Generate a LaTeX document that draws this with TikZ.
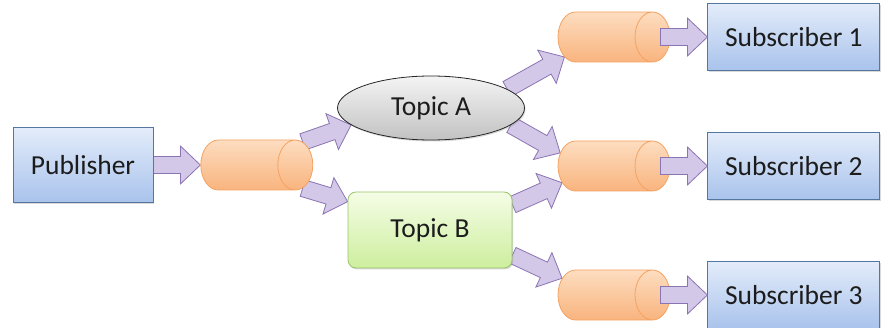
\documentclass[tikz,border=0pt]{standalone}
\usepackage{fontspec}
\setmainfont{Carlito}
\usetikzlibrary{positioning,calc,shapes.geometric,backgrounds,shadows}
\definecolor{boxline}{HTML}{55779F}
\definecolor{boxtop}{HTML}{E3ECFA}
\definecolor{boxbot}{HTML}{A9C3EC}
\definecolor{qline}{HTML}{F4A262}
\definecolor{qtop}{HTML}{FDDDC0}
\definecolor{qbot}{HTML}{F9B47E}
\definecolor{graytop}{HTML}{F4F4F4}
\definecolor{graybot}{HTML}{C2C2C2}
\definecolor{greentop}{HTML}{F5FDE6}
\definecolor{greenbot}{HTML}{CDEE9E}
\definecolor{greenline}{HTML}{98C46A}
\definecolor{flowfill}{HTML}{D4C8E8}
\definecolor{flowline}{HTML}{8B74B3}
\definecolor{ink}{HTML}{1C1C1C}

\begin{document}
\begin{tikzpicture}[x=1pt,y=-1pt,
  node distance=47pt,
  every node/.style={font=\fontsize{27.5}{31}\selectfont,text=ink,inner sep=0pt},
  box/.style={draw=boxline,line width=0.8pt,top color=boxtop,bottom color=boxbot,
              minimum width=172pt,minimum height=67pt,
              drop shadow={shadow xshift=1pt,shadow yshift=-1.5pt,opacity=0.3}},
  queue/.style={cylinder,shape aspect=0.7,inner xsep=0pt,inner ysep=25pt,
              draw=qline,line width=0.8pt,top color=qtop,bottom color=qbot,
              minimum width=50pt,minimum height=112pt},
  topic/.style={line width=0.8pt,minimum height=64pt,
              drop shadow={shadow xshift=1pt,shadow yshift=-1.5pt,opacity=0.3}},
  flow/.style={draw=flowline,fill=flowfill,line width=0.8pt,line join=miter,
    to path={let \p1=($(\tikztotarget)!20pt!(\tikztostart)$) in
      ($(\tikztostart)!8.5pt!90:(\tikztotarget)$)
      -- ($(\p1)!8.5pt!90:(\tikztotarget)$)
      -- ($(\p1)!19pt!90:(\tikztotarget)$)
      -- (\tikztotarget)
      -- ($(\p1)!19pt!-90:(\tikztotarget)$)
      -- ($(\p1)!8.5pt!-90:(\tikztotarget)$)
      -- ($(\tikztostart)!8.5pt!-90:(\tikztotarget)$)
      -- cycle}}
]
\useasboundingbox (0,0) rectangle (882,328);

\node[box,minimum width=140pt,minimum height=75pt] (pub) at (83,165) {Publisher};
\node[queue,right=of pub] (q0) {};
\node[topic,ellipse,draw=black!85,top color=graytop,bottom color=graybot,
      minimum width=187pt] (topa) at (431,108) {Topic A};
\node[topic,draw=greenline,rounded corners=8pt,top color=greentop,bottom color=greenbot,
      minimum width=164pt,minimum height=76pt] (topb) at (430,230) {Topic B};

\node[queue,anchor=shape center] (q1) at (614,37) {};
\node[queue,anchor=shape center] (q2) at (614,166) {};
\node[queue,anchor=shape center] (q3) at (614,295) {};
\foreach \i in {1,2,3}{
  \node[box,right=37pt of q\i] (sub\i) {Subscriber \i};
  \coordinate (out\i) at ($(q\i.east)+(-10,0)$);
}

\begin{scope}[on background layer]
\draw[flow] (pub.east) to (q0.west);
\draw[flow] (q0.20) to (topa.192);
\draw[flow] (q0.-20) to (topb.161);
\draw[flow] (topa.14) to (q1.212);
\draw[flow] (topa.-12) to (q2.160);
\draw[flow] (topb.17) to (q2.206);
\draw[flow] (topb.-17) to (q3.154);
\end{scope}
\foreach \i in {1,2,3}
  \draw[flow] (out\i) to (sub\i.west);
\end{tikzpicture}
\end{document}
